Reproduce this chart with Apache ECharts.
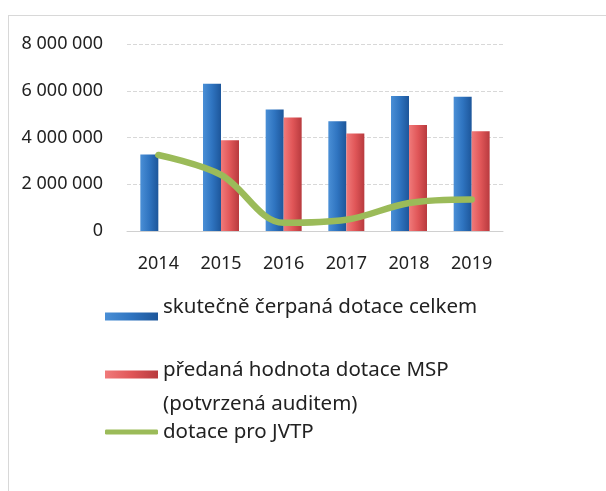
<!DOCTYPE html>
<html>
<head>
<meta charset="utf-8">
<script src="https://cdn.jsdelivr.net/npm/echarts@6/dist/echarts.min.js"></script>
<style>html,body{margin:0;padding:0;background:#fff}#c{width:606px;height:491px}</style>
</head>
<body>
<div id="c"></div>
<script>
const categories = ['2014', '2015', '2016', '2017', '2018', '2019'];
const celkem = [3270000, 6300000, 5200000, 4700000, 5780000, 5740000];
const msp = [null, 3880000, 4860000, 4170000, 4530000, 4270000];
const jvtp = [3250000, 2400000, 350000, 480000, 1200000, 1350000];
const yTicks = [0, 2000000, 4000000, 6000000, 8000000];
const seriesNames = ['skutečně čerpaná dotace celkem', 'předaná hodnota dotace MSP\n(potvrzená auditem)', 'dotace pro JVTP'];

const font = 'Noto Sans';
const blue = new echarts.graphic.LinearGradient(0, 0, 1, 0, [
  {offset: 0, color: '#4a8fd6'}, {offset: 0.5, color: '#2f74c0'}, {offset: 1, color: '#1d569a'}]);
const red = new echarts.graphic.LinearGradient(0, 0, 1, 0, [
  {offset: 0, color: '#f07a7a'}, {offset: 0.5, color: '#e05658'}, {offset: 1, color: '#b83a3e'}]);

const chart = echarts.init(document.getElementById('c'));
const legendBase = {orient: 'vertical', left: 100, itemWidth: 53, itemHeight: 8, itemGap: 0, selectedMode: false};
const tStyle = {fontFamily: font, fontSize: 20.5, color: '#222'};
chart.setOption({
  animation: false,
  textStyle: {fontFamily: font},
  graphic: [
    {type: 'line', shape: {x1: 8, y1: 15.5, x2: 606, y2: 15.5}, style: {stroke: '#d8d8d8', lineWidth: 1}},
    {type: 'line', shape: {x1: 8.5, y1: 15, x2: 8.5, y2: 491}, style: {stroke: '#d8d8d8', lineWidth: 1}}
  ],
  legend: [
    Object.assign({}, legendBase, {top: 292, data: [{name: seriesNames[0], icon: 'rect'}],
      formatter: n => `{t|${n}}\n{s| }`,
      textStyle: Object.assign({}, tStyle, {rich: {
        t: Object.assign({}, tStyle, {lineHeight: 24}),
        s: {fontSize: 1, lineHeight: 18}}})}),
    Object.assign({}, legendBase, {top: 335, data: [{name: seriesNames[1], icon: 'rect'}],
      formatter: n => `{s| }\n{t|` + n.split('\n').join('}\n{t|') + '}',
      textStyle: Object.assign({}, tStyle, {rich: {
        t: Object.assign({}, tStyle, {lineHeight: 34}),
        s: {fontSize: 1, lineHeight: 25}}})}),
    Object.assign({}, legendBase, {top: 415, itemHeight: 5, data: [{name: seriesNames[2], icon: 'roundRect'}],
      textStyle: Object.assign({}, tStyle, {lineHeight: 24})})
  ],
  grid: {left: 127, right: 103, top: 44, bottom: 260, containLabel: false},
  xAxis: {
    type: 'category', data: categories,
    axisLine: {show: true, lineStyle: {color: '#d0d0d0'}},
    axisTick: {show: false},
    axisLabel: {fontFamily: font, fontSize: 18, color: '#222', margin: 24}
  },
  yAxis: {
    type: 'value', min: 0, max: 8000000, interval: 2000000,
    axisLine: {show: false}, axisTick: {show: false},
    splitLine: {lineStyle: {color: '#d8d8d8', type: 'dashed'}},
    axisLabel: {fontFamily: font, fontSize: 18, color: '#222', margin: 24,
      formatter: v => yTicks.includes(v) ? String(v).replace(/\B(?=(\d{3})+(?!\d))/g, ' ') : ''}
  },
  series: [
    {name: seriesNames[0], type: 'bar', data: celkem, barWidth: 18, barGap: '0%', itemStyle: {color: blue}},
    {name: seriesNames[1], type: 'bar', data: msp, barWidth: 18, itemStyle: {color: red}},
    {name: seriesNames[2], type: 'line', data: jvtp, smooth: 0.35, showSymbol: false, symbol: 'none',
      lineStyle: {color: '#9bbb59', width: 6.5, cap: 'round'}, itemStyle: {color: '#9bbb59'}, z: 5}
  ]
});
</script>
</body>
</html>
